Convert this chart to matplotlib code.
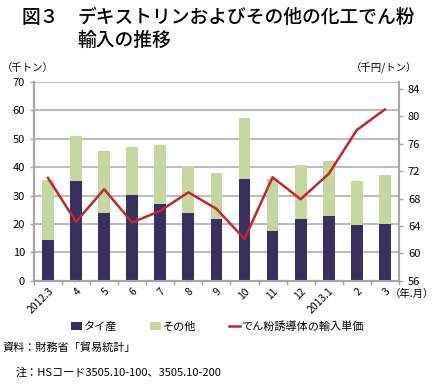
import matplotlib
matplotlib.use('Agg')
import matplotlib.pyplot as plt
import numpy as np

plt.rcParams['font.family'] = ['Noto Sans CJK JP', 'DejaVu Sans']

# 年.月
months = ['2012.3', '4', '5', '6', '7', '8', '9', '10', '11', '12', '2013.1', '2', '3']
# 千トン
thai = [14.2, 35.1, 23.8, 30.2, 27.0, 23.8, 21.7, 35.9, 17.5, 21.8, 22.7, 19.5, 19.9]
total = [35.5, 51.0, 45.7, 47.0, 47.7, 40.3, 37.9, 57.4, 35.7, 40.6, 42.3, 35.2, 37.2]
other = [t - s for t, s in zip(total, thai)]
# 千円/トン
price = [71.0, 64.6, 69.35, 64.5, 66.2, 68.9, 66.5, 62.1, 71.1, 67.9, 71.6, 78.0, 81.0]

navy = '#39305e'
green = '#c5d6a1'
red = '#c0282b'
grey = '#a6a6a6'

fig = plt.figure(figsize=(4.35, 3.88), dpi=100)
ax = fig.add_axes([0.078, 0.2765, 0.839, 0.512])
ax2 = ax.twinx()

x = np.arange(len(months))
ax.bar(x, thai, width=0.42, color=navy, label='タイ産', zorder=3)
ax.bar(x, other, width=0.42, bottom=thai, color=green, label='その他', zorder=3)
ax2.plot(x, price, color=red, lw=1.8, label='でん粉誘導体の輸入単価')

ax.set_xlim(-0.5, len(months) - 0.5)
ax.set_ylim(0, 70)
ax.set_yticks(range(0, 71, 10))
ax2.set_ylim(56, 85)
ax2.set_yticks(range(56, 85, 4))

ax.yaxis.grid(True, color='#bdbdbd', lw=1.5, zorder=0)
ax.set_axisbelow(True)

for a in (ax, ax2):
    a.spines['top'].set_visible(False)
    for s in ('left', 'right', 'bottom'):
        a.spines[s].set_color(grey)
        a.spines[s].set_linewidth(1.5)
    a.tick_params(colors=grey, labelcolor='black', labelsize=8, length=3, width=1)

ax.set_xticks(x)
ax.set_xticklabels(months, rotation=45, ha='right', rotation_mode='anchor', fontsize=7.5)
ax.tick_params(axis='x', length=0, pad=4)
ax.set_xticks(np.arange(-0.5, len(months), 1), minor=True)
ax.tick_params(axis='x', which='minor', length=3, color=grey, width=1)

fig.text(0.05, 0.955, '図３', fontsize=13.5, fontweight='medium', va='center')
fig.text(0.178, 0.955, 'デキストリンおよびその他の化工でん粉', fontsize=13.5,
         fontweight='medium', va='center')
fig.text(0.178, 0.897, '輸入の推移', fontsize=13.5, fontweight='medium', va='center')

fig.text(0.005, 0.825, '（千トン）', fontsize=7.5, va='center')
fig.text(0.96, 0.825, '（千円/トン）', fontsize=7.5, va='center', ha='right')
fig.text(0.998, 0.243, '（年.月）', fontsize=7.5, va='center', ha='right')

h1, l1 = ax.get_legend_handles_labels()
h2, l2 = ax2.get_legend_handles_labels()
fig.legend(h1 + h2, l1 + l2, loc='center', bbox_to_anchor=(0.5, 0.158), ncol=3,
           frameon=False, fontsize=8, handlelength=1.0, handleheight=0.7,
           handletextpad=0.1, columnspacing=3.0)

fig.text(0.005, 0.103, '資料：財務省「貿易統計」', fontsize=8, va='center')
fig.text(0.035, 0.04, '注：HSコード3505.10-100、3505.10-200', fontsize=8, va='center')

fig.savefig('out.png', dpi=100)
